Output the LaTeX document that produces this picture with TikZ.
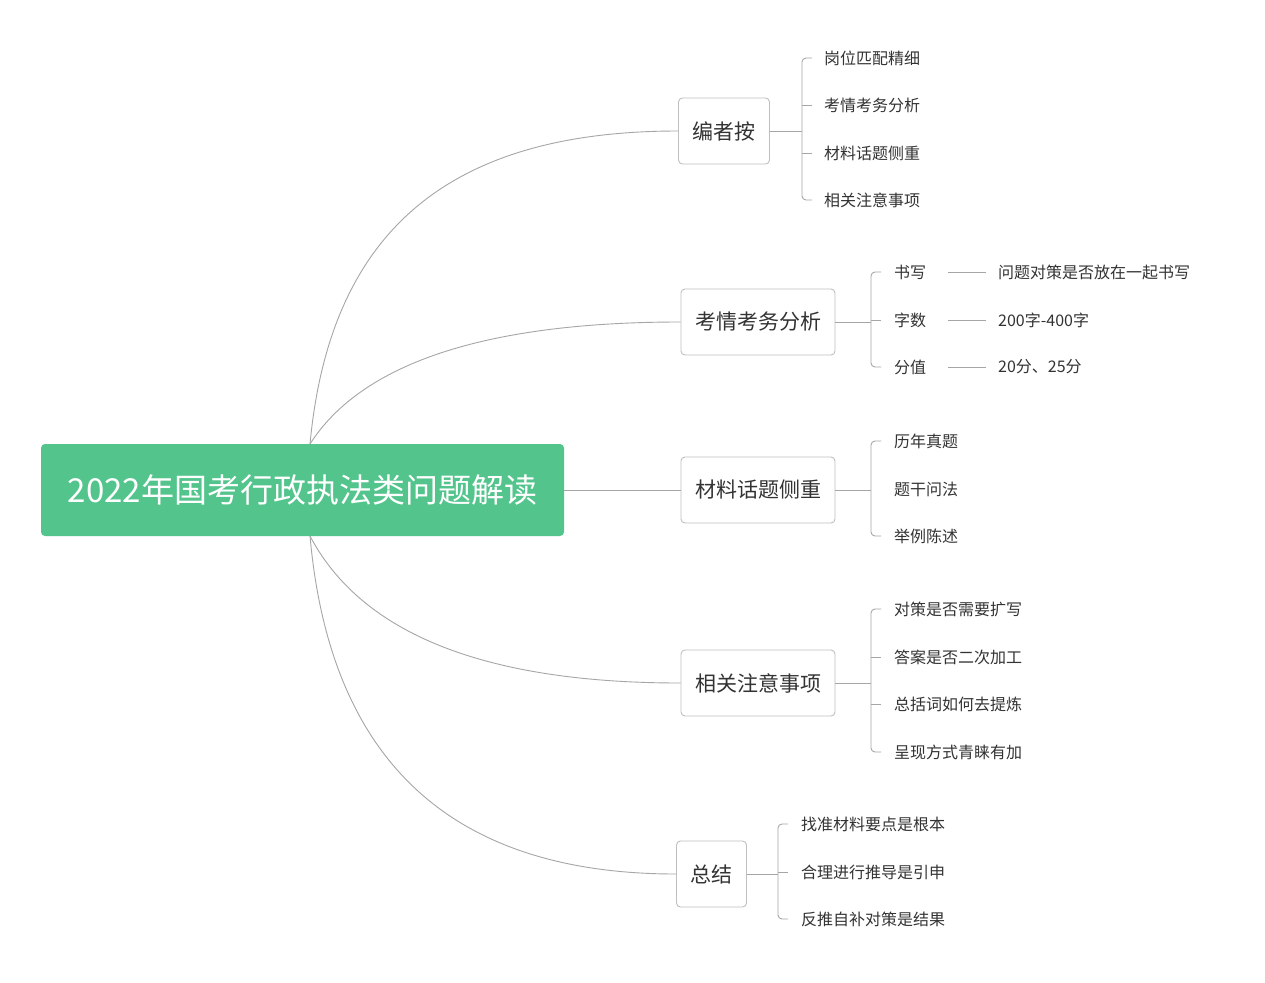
\documentclass[tikz,border=0pt]{standalone}
\usepackage{fontspec}
\setmainfont{Noto Sans CJK SC}
\definecolor{rootg}{RGB}{82,196,140}
\begin{document}
\begin{tikzpicture}[x=1pt,y=-1pt,
 ln/.style={draw=black!35,line width=0.9pt},
 l1/.style={draw=black!25,line width=0.9pt,rounded corners=4pt,fill=white,text=black!80,font=\fontsize{21}{21}\selectfont,inner xsep=14pt,minimum height=66pt},
 it/.style={anchor=west,text=black!80,font=\fontsize{16}{16}\selectfont,inner sep=0pt},
 br/.style={ln,rounded corners=4pt}]
\useasboundingbox[fill=white] (0,0) rectangle (1265,982);
\node[fill=rootg,rounded corners=4pt,minimum width=523pt,minimum height=92pt,text=white,font=\fontsize{33}{33}\selectfont] (root) at (302.5,490) {2022年国考行政执法类问题解读};
\node[l1] (a) at (724,131) {编者按};
\node[l1] (b) at (758,322) {考情考务分析};
\node[l1] (c) at (758,490) {材料话题侧重};
\node[l1] (d) at (758,683) {相关注意事项};
\node[l1] (e) at (711.5,874) {总结};
\coordinate (rt) at (310,444);
\coordinate (rb) at (310,536);
\draw[ln] (rt) .. controls (330,230) and (450,131) .. (a.west);
\draw[ln] (rt) .. controls (370,350) and (520,322) .. (b.west);
\draw[ln] (root.east) -- (c.west);
\draw[ln] (rb) .. controls (370,650) and (520,683) .. (d.west);
\draw[ln] (rb) .. controls (330,760) and (450,874) .. (e.west);
% a
\foreach \t/\y [count=\i] in {岗位匹配精细/58,考情考务分析/105,材料话题侧重/153,相关注意事项/200}{\node[it] (a\i) at (824,\y) {\t};}
\draw[ln] (a.east) -- (802,131);
\draw[br] (812,58) -- (802,58) -- (802,200) -- (812,200);
\draw[ln] (802,105) -- (812,105); \draw[ln] (802,153) -- (812,153);
% b
\foreach \t/\y [count=\i] in {书写/272,字数/320,分值/367}{\node[it] (b\i) at (894,\y) {\t};}
\node[it] (b1x) at (998,272) {问题对策是否放在一起书写};
\node[it] (b2x) at (998,320) {200字-400字};
\node[it] (b3x) at (998,367) {20分、25分};
\draw[ln] (b.east) -- (871,322);
\draw[br] (881,272) -- (871,272) -- (871,367) -- (881,367);
\draw[ln] (871,320) -- (881,320);
\draw[ln] (948,272) -- (986,272); \draw[ln] (948,320) -- (986,320); \draw[ln] (948,367) -- (986,367);
% c
\foreach \t/\y [count=\i] in {历年真题/441,题干问法/489,举例陈述/536}{\node[it] (c\i) at (894,\y) {\t};}
\draw[ln] (c.east) -- (871,490);
\draw[br] (881,441) -- (871,441) -- (871,536) -- (881,536);
% d
\foreach \t/\y [count=\i] in {对策是否需要扩写/609,答案是否二次加工/657,总括词如何去提炼/704,呈现方式青睐有加/752}{\node[it] (d\i) at (894,\y) {\t};}
\draw[ln] (d.east) -- (871,683);
\draw[br] (881,609) -- (871,609) -- (871,752) -- (881,752);
\draw[ln] (871,657) -- (881,657); \draw[ln] (871,704) -- (881,704);
% e
\foreach \t/\y [count=\i] in {找准材料要点是根本/824,合理进行推导是引申/872,反推自补对策是结果/919}{\node[it] (e\i) at (801,\y) {\t};}
\draw[ln] (e.east) -- (778,874);
\draw[br] (788,824) -- (778,824) -- (778,919) -- (788,919);
\draw[ln] (778,872) -- (788,872);
\end{tikzpicture}
\end{document}
